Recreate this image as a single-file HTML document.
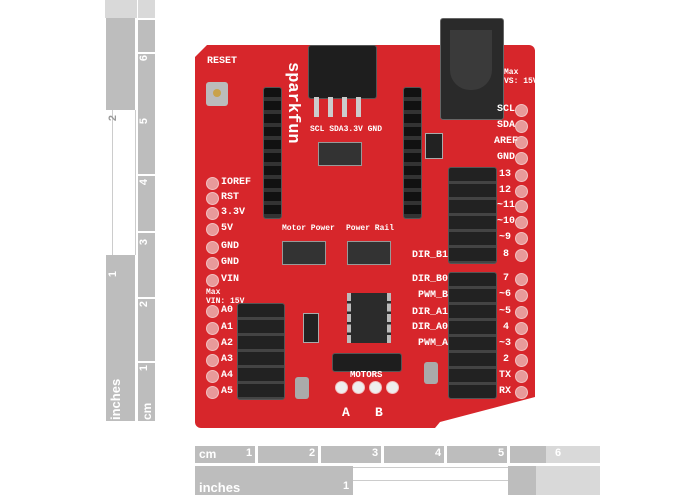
<!DOCTYPE html>
<html><head><style>
body{margin:0;width:700px;height:500px;background:#fff;position:relative;overflow:hidden;font-family:"Liberation Mono",monospace}
.a{position:absolute}
.g{background:#bdbdbd}
.lg{background:#d9d9d9}
.blk{background:#1e1e1e;border:1px solid #555;border-radius:3px}
.t{position:absolute;color:#fff;font-size:10px;font-weight:bold;white-space:nowrap}
.pin{position:absolute;width:11px;height:11px;border-radius:50%;background:#e89a9a;border:1px solid #f3c0c0}
.hole{position:absolute;width:4px;height:4px;background:#8a7a60}
.rt{position:absolute;color:#fff;font-family:"Liberation Sans",sans-serif;font-weight:bold;font-size:11px}
</style></head><body>
<!-- vertical ruler -->
<div class="a lg" style="left:105px;top:0;width:32px;height:18px"></div>
<div class="a g" style="left:106px;top:18px;width:29px;height:92px"></div>
<div class="a" style="left:112px;top:110px;width:22px;height:145px;border-left:1px solid #ccc;border-right:1px solid #ccc"></div>
<div class="a g" style="left:106px;top:255px;width:29px;height:166px"></div>
<div class="a lg" style="left:138px;top:0;width:17px;height:18px"></div>
<div class="a g" style="left:138px;top:20px;width:17px;height:32px"></div>
<div class="a g" style="left:138px;top:54px;width:17px;height:120px"></div>
<div class="a g" style="left:138px;top:176px;width:17px;height:55px"></div>
<div class="a g" style="left:138px;top:233px;width:17px;height:64px"></div>
<div class="a g" style="left:138px;top:299px;width:17px;height:62px"></div>
<div class="a g" style="left:138px;top:363px;width:17px;height:58px"></div>
<div class="rt" style="left:104px;top:380px;transform:rotate(-90deg);transform-origin:left top;top:420px;left:108px;font-size:13px">inches</div>
<div class="rt" style="left:140px;top:420px;transform:rotate(-90deg);transform-origin:left top;font-size:12px">cm</div>
<div class="rt" style="left:110px;top:268px;transform:rotate(-90deg)">1</div>
<div class="rt" style="left:110px;top:112px;color:#999;transform:rotate(-90deg)">2</div>
<div class="rt" style="left:141px;top:362px;transform:rotate(-90deg)">1</div>
<div class="rt" style="left:141px;top:298px;transform:rotate(-90deg)">2</div>
<div class="rt" style="left:141px;top:236px;transform:rotate(-90deg)">3</div>
<div class="rt" style="left:141px;top:176px;transform:rotate(-90deg)">4</div>
<div class="rt" style="left:141px;top:115px;transform:rotate(-90deg)">5</div>
<div class="rt" style="left:141px;top:52px;transform:rotate(-90deg)">6</div>
<!-- horizontal ruler -->
<div class="a g" style="left:195px;top:446px;width:60px;height:17px"></div>
<div class="a g" style="left:258px;top:446px;width:60px;height:17px"></div>
<div class="a g" style="left:321px;top:446px;width:60px;height:17px"></div>
<div class="a g" style="left:384px;top:446px;width:60px;height:17px"></div>
<div class="a g" style="left:447px;top:446px;width:60px;height:17px"></div>
<div class="a g" style="left:510px;top:446px;width:36px;height:17px"></div>
<div class="a lg" style="left:546px;top:446px;width:54px;height:17px"></div>
<div class="a g" style="left:195px;top:466px;width:158px;height:29px"></div>
<div class="a" style="left:353px;top:467px;width:155px;height:12px;border-top:1px solid #ccc;border-bottom:1px solid #ccc"></div>
<div class="a g" style="left:508px;top:466px;width:28px;height:29px"></div>
<div class="a lg" style="left:536px;top:466px;width:64px;height:29px"></div>
<div class="rt" style="left:199px;top:447px;font-size:12px">cm</div>
<div class="rt" style="left:246px;top:447px">1</div>
<div class="rt" style="left:309px;top:447px">2</div>
<div class="rt" style="left:372px;top:447px">3</div>
<div class="rt" style="left:435px;top:447px">4</div>
<div class="rt" style="left:498px;top:447px">5</div>
<div class="rt" style="left:555px;top:447px">6</div>
<div class="rt" style="left:199px;top:480px;font-size:13px">inches</div>
<div class="rt" style="left:343px;top:480px">1</div>
<!-- board -->
<div class="a" style="left:195px;top:45px;width:340px;height:383px;background:#d7262b;clip-path:polygon(0 12px,12px 0,100% 0,100% 352px,245px 377px,240px 100%,0 100%);border-radius:6px"></div>
<!-- top connector -->
<div class="a blk" style="left:308px;top:45px;width:67px;height:52px"></div>
<div class="a" style="left:314px;top:97px;width:55px;height:20px;background:repeating-linear-gradient(90deg,#ccc 0 5px,transparent 5px 14px)"></div>
<!-- power jack -->
<div class="a" style="left:440px;top:18px;width:62px;height:100px;background:#2a2a2a;border:1px solid #666;border-radius:3px"></div>
<div class="a" style="left:450px;top:30px;width:42px;height:60px;background:#3a3a3a;border-radius:0 0 20px 20px"></div>
<!-- xbee headers -->
<div class="a blk" style="left:263px;top:87px;width:17px;height:130px;background:repeating-linear-gradient(#111 0 9px,#333 9px 13px)"></div>
<div class="a blk" style="left:403px;top:87px;width:17px;height:130px;background:repeating-linear-gradient(#111 0 9px,#333 9px 13px)"></div>
<!-- right headers -->
<div class="a blk" style="left:448px;top:167px;width:47px;height:95px;background:repeating-linear-gradient(#222 0 13px,#444 13px 16px)"></div>
<div class="a blk" style="left:448px;top:272px;width:47px;height:125px;background:repeating-linear-gradient(#222 0 13px,#444 13px 16px)"></div>
<div class="a blk" style="left:237px;top:303px;width:46px;height:95px;background:repeating-linear-gradient(#222 0 13px,#444 13px 16px)"></div>
<!-- switches -->
<div class="a" style="left:318px;top:142px;width:42px;height:22px;background:#333;border:1px solid #999"></div>
<div class="a" style="left:282px;top:241px;width:42px;height:22px;background:#333;border:1px solid #999"></div>
<div class="a" style="left:347px;top:241px;width:42px;height:22px;background:#333;border:1px solid #999"></div>
<!-- chip -->
<div class="a" style="left:347px;top:293px;width:36px;height:50px;background:#2b2b2b;border-left:4px dashed #bbb;border-right:4px dashed #bbb"></div>
<div class="a blk" style="left:332px;top:353px;width:68px;height:17px"></div>
<div class="a" style="left:303px;top:313px;width:14px;height:28px;background:#222;border:1px solid #aaa"></div>
<div class="a" style="left:425px;top:133px;width:16px;height:24px;background:#222;border:1px solid #aaa"></div>
<div class="a" style="left:295px;top:377px;width:14px;height:22px;background:#aaa;border-radius:3px"></div>
<div class="a" style="left:424px;top:362px;width:14px;height:22px;background:#aaa;border-radius:3px"></div>
<!-- reset button -->
<div class="a" style="left:206px;top:82px;width:22px;height:24px;background:#bbb;border-radius:3px"></div>
<div class="a" style="left:213px;top:89px;width:8px;height:8px;background:#c9a24a;border-radius:50%"></div>
<!-- terminals -->
<div class="pin" style="left:335px;top:381px;background:#eee"></div>
<div class="pin" style="left:352px;top:381px;background:#eee"></div>
<div class="pin" style="left:369px;top:381px;background:#eee"></div>
<div class="pin" style="left:386px;top:381px;background:#eee"></div>
<!-- left pins -->
<div class="pin" style="left:206px;top:177px"></div><div class="pin" style="left:206px;top:192px"></div><div class="pin" style="left:206px;top:207px"></div><div class="pin" style="left:206px;top:223px"></div><div class="pin" style="left:206px;top:241px"></div><div class="pin" style="left:206px;top:257px"></div><div class="pin" style="left:206px;top:274px"></div><div class="pin" style="left:206px;top:305px"></div><div class="pin" style="left:206px;top:322px"></div><div class="pin" style="left:206px;top:338px"></div><div class="pin" style="left:206px;top:354px"></div><div class="pin" style="left:206px;top:370px"></div><div class="pin" style="left:206px;top:386px"></div>
<div class="t" style="left:221px;top:177px">IOREF</div><div class="t" style="left:221px;top:192px">RST</div><div class="t" style="left:221px;top:207px">3.3V</div><div class="t" style="left:221px;top:223px">5V</div><div class="t" style="left:221px;top:241px">GND</div><div class="t" style="left:221px;top:257px">GND</div><div class="t" style="left:221px;top:274px">VIN</div>
<div class="t" style="left:221px;top:305px">A0</div><div class="t" style="left:221px;top:322px">A1</div><div class="t" style="left:221px;top:338px">A2</div><div class="t" style="left:221px;top:354px">A3</div><div class="t" style="left:221px;top:370px">A4</div><div class="t" style="left:221px;top:386px">A5</div>
<div class="t" style="left:207px;top:56px">RESET</div>
<div class="t" style="left:206px;top:288px;font-size:8px">Max<br>VIN: 15V</div>
<!-- right pins -->
<div class="pin" style="left:515px;top:104px"></div><div class="pin" style="left:515px;top:120px"></div><div class="pin" style="left:515px;top:136px"></div><div class="pin" style="left:515px;top:152px"></div>
<div class="pin" style="left:515px;top:169px"></div><div class="pin" style="left:515px;top:185px"></div><div class="pin" style="left:515px;top:200px"></div><div class="pin" style="left:515px;top:216px"></div><div class="pin" style="left:515px;top:232px"></div><div class="pin" style="left:515px;top:249px"></div>
<div class="pin" style="left:515px;top:273px"></div><div class="pin" style="left:515px;top:289px"></div><div class="pin" style="left:515px;top:306px"></div><div class="pin" style="left:515px;top:322px"></div><div class="pin" style="left:515px;top:338px"></div><div class="pin" style="left:515px;top:354px"></div><div class="pin" style="left:515px;top:370px"></div><div class="pin" style="left:515px;top:386px"></div>
<div class="t" style="left:497px;top:104px">SCL</div><div class="t" style="left:497px;top:120px">SDA</div><div class="t" style="left:494px;top:136px">AREF</div><div class="t" style="left:497px;top:152px">GND</div>
<div class="t" style="left:499px;top:169px">13</div><div class="t" style="left:499px;top:185px">12</div><div class="t" style="left:497px;top:200px">~11</div><div class="t" style="left:497px;top:216px">~10</div><div class="t" style="left:499px;top:232px">~9</div><div class="t" style="left:503px;top:249px">8</div>
<div class="t" style="left:503px;top:273px">7</div><div class="t" style="left:499px;top:289px">~6</div><div class="t" style="left:499px;top:306px">~5</div><div class="t" style="left:503px;top:322px">4</div><div class="t" style="left:499px;top:338px">~3</div><div class="t" style="left:503px;top:354px">2</div><div class="t" style="left:499px;top:370px">TX</div><div class="t" style="left:499px;top:386px">RX</div>
<div class="t" style="left:504px;top:68px;font-size:8px">Max<br>VS: 15V</div>
<div class="t" style="left:412px;top:250px">DIR_B1</div><div class="t" style="left:412px;top:274px">DIR_B0</div><div class="t" style="left:418px;top:290px">PWM_B</div><div class="t" style="left:412px;top:307px">DIR_A1</div><div class="t" style="left:412px;top:322px">DIR_A0</div><div class="t" style="left:418px;top:338px">PWM_A</div>
<div class="t" style="left:350px;top:370px;font-size:9px">MOTORS</div>
<div class="t" style="left:342px;top:405px;font-size:13px">A</div><div class="t" style="left:375px;top:405px;font-size:13px">B</div>
<div class="t" style="left:282px;top:224px;font-size:8px">Motor Power</div><div class="t" style="left:346px;top:224px;font-size:8px">Power Rail</div>
<div class="t" style="left:310px;top:125px;font-size:8px">SCL SDA3.3V GND</div>
<div class="t" style="left:280px;top:62px;font-size:17px;transform:rotate(90deg);transform-origin:left top;left:302px">sparkfun</div>
</body></html>
